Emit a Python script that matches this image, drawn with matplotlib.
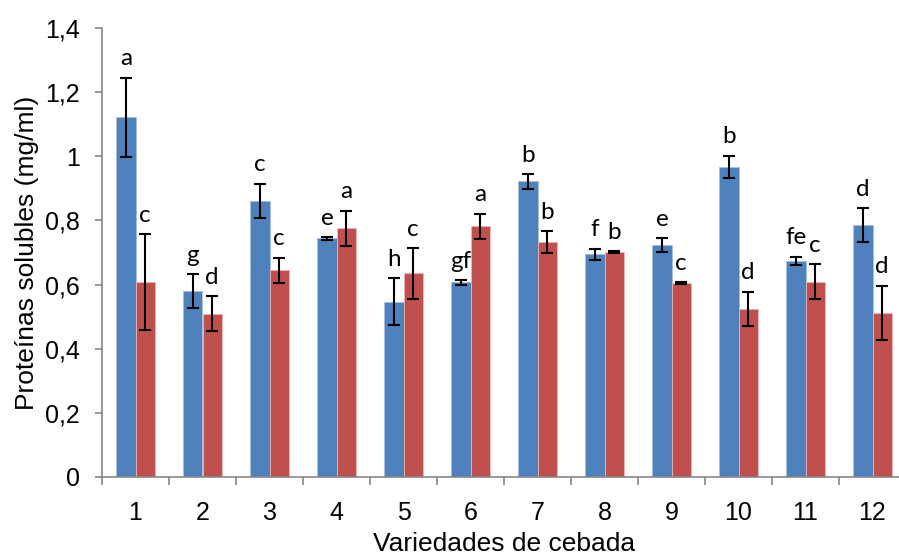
import numpy as np
import matplotlib
matplotlib.use('Agg')
import matplotlib.pyplot as plt
from matplotlib.ticker import FuncFormatter

# data
variedades = ['1', '2', '3', '4', '5', '6', '7', '8', '9', '10', '11', '12']
serie_azul = [1.122, 0.580, 0.862, 0.744, 0.547, 0.607, 0.922, 0.694, 0.724, 0.967, 0.674, 0.785]
err_azul = [0.123, 0.053, 0.053, 0.004, 0.074, 0.007, 0.023, 0.018, 0.021, 0.035, 0.013, 0.053]
serie_roja = [0.607, 0.509, 0.645, 0.775, 0.635, 0.782, 0.732, 0.702, 0.605, 0.525, 0.609, 0.512]
err_roja = [0.150, 0.055, 0.039, 0.055, 0.079, 0.039, 0.034, 0.002, 0.002, 0.053, 0.055, 0.085]
letras_azul = ['a', 'g', 'c', 'e', 'h', 'gf', 'b', 'f', 'e', 'b', 'fe', 'd']
letras_roja = ['c', 'd', 'c', 'a', 'c', 'a', 'b', 'b', 'c', 'd', 'c', 'd']

plt.rcParams['font.family'] = ['Liberation Sans', 'DejaVu Sans']

fig = plt.figure(figsize=(8.99, 5.57), dpi=100)
ax = fig.add_axes([102 / 899, 80 / 557, 804 / 899, 449 / 557])

x = np.arange(1, len(variedades) + 1)
w = 0.285
azul = '#4F81BD'
roja = '#C0504D'

ax.bar(x - w / 2, serie_azul, w, color=azul, edgecolor='#A7BFDE', linewidth=0.6, zorder=2)
ax.bar(x + w / 2, serie_roja, w, color=roja, edgecolor='#E6B9B8', linewidth=0.6, zorder=2)
ax.errorbar(x - w / 2, serie_azul, yerr=err_azul, fmt='none', ecolor='black',
            elinewidth=1.5, capsize=4.3, capthick=1.5, zorder=3)
ax.errorbar(x + w / 2, serie_roja, yerr=err_roja, fmt='none', ecolor='black',
            elinewidth=1.5, capsize=4.3, capthick=1.5, zorder=3)

# significance letters above the error bars
for i in range(len(x)):
    ax.annotate(letras_azul[i], (x[i] - w / 2, serie_azul[i] + err_azul[i]),
                xytext=(0, 6), textcoords='offset points', ha='center', va='bottom',
                fontsize=17.5, family=['Lato', 'DejaVu Sans'])
    ax.annotate(letras_roja[i], (x[i] + w / 2, serie_roja[i] + err_roja[i]),
                xytext=(0, 6), textcoords='offset points', ha='center', va='bottom',
                fontsize=17.5, family=['Lato', 'DejaVu Sans'])

ax.set_xlim(0.5, len(x) + 0.5)
ax.set_ylim(0, 1.4)
ax.set_yticks(np.arange(0, 1.41, 0.2))
ax.yaxis.set_major_formatter(FuncFormatter(lambda v, p: ('%g' % round(v, 1)).replace('.', ',')))
ax.set_xticks(x)
ax.set_xticklabels(variedades)
ax.set_xticks(np.arange(0.5, len(x) + 1, 1), minor=True)
ax.tick_params(axis='x', which='major', length=0, pad=17, labelsize=18)
ax.tick_params(axis='x', which='minor', length=6, width=1.2, color='#868686', direction='out')
ax.tick_params(axis='y', length=5, width=1.2, color='#868686', direction='out', pad=11, labelsize=18)

for s in ['top', 'right']:
    ax.spines[s].set_visible(False)
for s in ['left', 'bottom']:
    ax.spines[s].set_color('#868686')
    ax.spines[s].set_linewidth(1.2)

ax.set_xlabel('Variedades de cebada', fontsize=19, labelpad=5.5)
ax.set_ylabel('Proteínas solubles (mg/ml)', fontsize=19, labelpad=4)

fig.savefig('out.png', dpi=100)
